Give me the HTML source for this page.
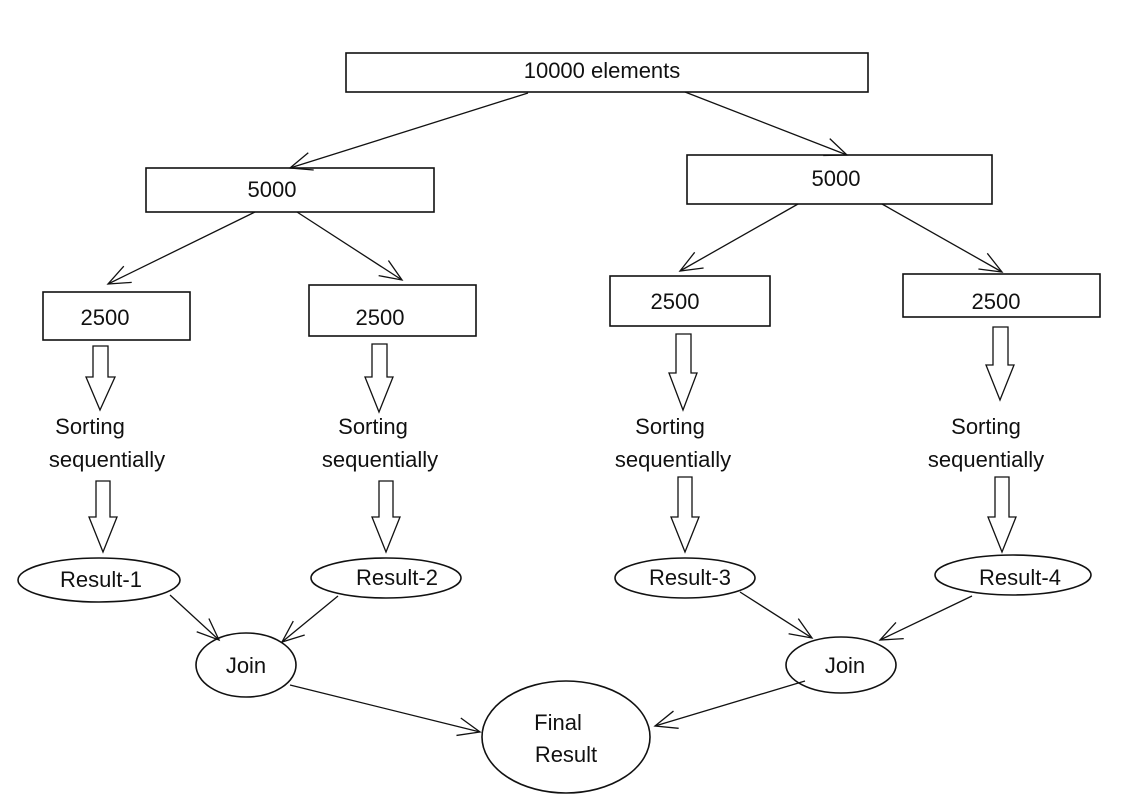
<!DOCTYPE html>
<html><head><meta charset="utf-8"><style>
html,body{margin:0;padding:0;background:#fff;}
svg{display:block;}
text{font-family:"Liberation Sans",sans-serif;font-size:22px;fill:#111;}
</style></head><body>
<svg width="1146" height="810" viewBox="0 0 1146 810" xmlns="http://www.w3.org/2000/svg">
<defs>
<marker id="a" markerWidth="30" markerHeight="30" refX="26" refY="15" orient="auto" markerUnits="userSpaceOnUse">
<path d="M4,6 L26,15 L4,24" fill="none" stroke="#111" stroke-width="1.3"/>
</marker>
</defs>
<g fill="none" stroke="#111" stroke-width="1.6">
<rect x="346" y="53" width="522" height="39"/>
<rect x="146" y="168" width="288" height="44"/>
<rect x="687" y="155" width="305" height="49"/>
<rect x="43" y="292" width="147" height="48"/>
<rect x="309" y="285" width="167" height="51"/>
<rect x="610" y="276" width="160" height="50"/>
<rect x="903" y="274" width="197" height="43"/>
<ellipse cx="99" cy="580" rx="81" ry="22"/>
<ellipse cx="386" cy="578" rx="75" ry="20"/>
<ellipse cx="685" cy="578" rx="70" ry="20"/>
<ellipse cx="1013" cy="575" rx="78" ry="20"/>
<ellipse cx="246" cy="665" rx="50" ry="32"/>
<ellipse cx="841" cy="665" rx="55" ry="28"/>
<ellipse cx="566" cy="737" rx="84" ry="56"/>
</g>
<g fill="none" stroke="#111" stroke-width="1.3">
<path d="M93,346 H108 V377 H115 L100,410 L86,377 H93 Z"/>
<path d="M372,344 H387 V377 H393 L379,412 L365,377 H372 Z"/>
<path d="M676,334 H691 V373 H697 L683,410 L669,373 H676 Z"/>
<path d="M993,327 H1008 V365 H1014 L1000,400 L986,365 H993 Z"/>
<path d="M96,481 H110 V517 H117 L103,552 L89,517 H96 Z"/>
<path d="M379,481 H393 V517 H400 L386,552 L372,517 H379 Z"/>
<path d="M678,477 H692 V517 H699 L685,552 L671,517 H678 Z"/>
<path d="M995,477 H1009 V517 H1016 L1002,552 L988,517 H995 Z"/>
</g>
<g stroke="#111" stroke-width="1.3" fill="none" marker-end="url(#a)">
<line x1="528" y1="93" x2="290" y2="168"/>
<line x1="685" y1="92" x2="847" y2="155"/>
<line x1="255" y1="212" x2="108" y2="284"/>
<line x1="297" y1="212" x2="402" y2="280"/>
<line x1="798" y1="204" x2="680" y2="271"/>
<line x1="882" y1="204" x2="1002" y2="272"/>
<line x1="170" y1="595" x2="219" y2="640"/>
<line x1="338" y1="596" x2="282" y2="642"/>
<line x1="740" y1="592" x2="812" y2="638"/>
<line x1="972" y1="596" x2="880" y2="640"/>
<line x1="290" y1="685" x2="480" y2="732"/>
<line x1="805" y1="681" x2="655" y2="726"/>
</g>
<g text-anchor="middle">
<text x="602" y="78">10000 elements</text>
<text x="272" y="197">5000</text>
<text x="836" y="186">5000</text>
<text x="105" y="325">2500</text>
<text x="380" y="325">2500</text>
<text x="675" y="309">2500</text>
<text x="996" y="309">2500</text>
<text x="90" y="434">Sorting</text>
<text x="107" y="467">sequentially</text>
<text x="373" y="434">Sorting</text>
<text x="380" y="467">sequentially</text>
<text x="670" y="434">Sorting</text>
<text x="673" y="467">sequentially</text>
<text x="986" y="434">Sorting</text>
<text x="986" y="467">sequentially</text>
<text x="101" y="587">Result-1</text>
<text x="397" y="585">Result-2</text>
<text x="690" y="585">Result-3</text>
<text x="1020" y="585">Result-4</text>
<text x="246" y="673">Join</text>
<text x="845" y="673">Join</text>
<text x="558" y="730">Final</text>
<text x="566" y="762">Result</text>
</g>
</svg>
</body></html>
